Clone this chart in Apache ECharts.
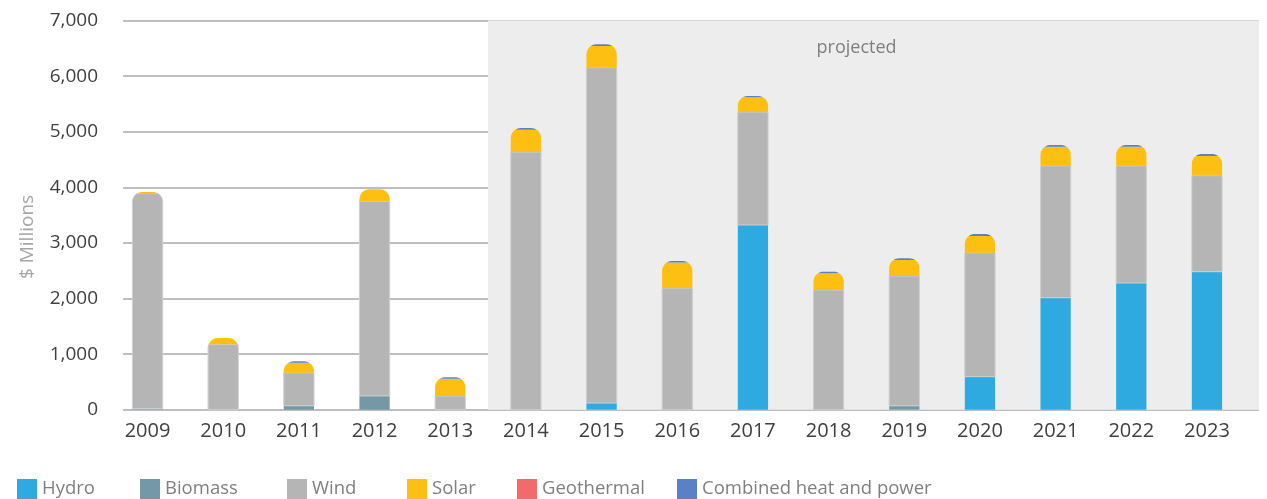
<!DOCTYPE html>
<html>
<head>
<meta charset="utf-8">
<script src="https://cdn.jsdelivr.net/npm/echarts@6/dist/echarts.min.js"></script>
<style>
html,body{margin:0;padding:0;background:#fff;}
#chart{width:1267px;height:499px;}
</style>
</head>
<body>
<div id="chart"></div>
<script>
const years = ['2009','2010','2011','2012','2013','2014','2015','2016','2017','2018','2019','2020','2021','2022','2023'];
const hydro      = [0, 0, 0, 0, 0, 0, 120, 0, 3322, 0, 0, 594, 2014, 2279, 2482];
const biomass    = [15, 0, 70, 248, 0, 0, 0, 0, 0, 0, 70, 0, 0, 0, 0];
const wind       = [3870, 1176, 595, 3500, 246, 4633, 6031, 2187, 2032, 2153, 2335, 2230, 2374, 2109, 1727];
const solar      = [30, 114, 180, 216, 312, 400, 390, 460, 265, 300, 287, 300, 342, 342, 354];
const geothermal = [0, 0, 0, 0, 0, 0, 0, 0, 0, 0, 0, 0, 0, 0, 0];
const chp        = [0, 0, 25, 0, 25, 32, 31, 28, 23, 29, 31, 36, 31, 31, 36];
const seriesNames = ['Hydro', 'Biomass', 'Wind', 'Solar', 'Geothermal', 'Combined heat and power'];
const yMin = 0, yMax = 7000, yStep = 1000;
const projectedStartIndex = 4.5;

const stackData = [hydro, biomass, wind, solar, geothermal, chp];
const colors = ['#2eaae0', '#7598a6', '#b5b5b5', '#fdc012', '#f26a6a', '#5b80c6'];
const legendLefts = [17, 140, 287, 407, 517, 677];
const FONT = '"Open Sans", "DejaVu Sans", sans-serif';

function makeRender(k) {
  return function (params, api) {
    const i = params.dataIndex;
    const v = stackData[k][i];
    if (!v) return null;
    let base = 0, total = 0;
    for (let j = 0; j < stackData.length; j++) {
      if (j < k) base += stackData[j][i];
      total += stackData[j][i];
    }
    const xc = api.coord([i, 0])[0];
    const y0 = api.coord([i, 0])[1];
    const yb = api.coord([i, base])[1];
    const yt = api.coord([i, base + v])[1];
    const T = api.coord([i, total])[1];
    const half = api.size([1, 0])[0] * 0.4 / 2;
    const r = Math.min(10, half, y0 - T);
    const lim = T + r;
    const inset = function (y) {
      const d = lim - y;
      if (d <= 0) return 0;
      return r - Math.sqrt(Math.max(0, r * r - d * d));
    };
    const ys = [yb];
    if (yt < lim) {
      const from = Math.min(yb, lim);
      const N = 20;
      for (let n = 0; n <= N; n++) ys.push(from + (yt - from) * n / N);
    } else {
      ys.push(yt);
    }
    const left = ys.map(function (y) { return [xc - half + inset(y), y]; });
    const right = ys.slice().reverse().map(function (y) { return [xc + half - inset(y), y]; });
    return {
      type: 'polygon',
      shape: { points: left.concat(right) },
      style: {
        fill: colors[k],
        stroke: k === 2 ? '#cfcfcf' : null,
        lineWidth: k === 2 ? 1 : 0
      }
    };
  };
}

const barSeries = seriesNames.map(function (name, k) {
  return {
    name: name,
    type: 'custom',
    xAxisIndex: 1,
    yAxisIndex: 1,
    itemStyle: { color: colors[k] },
    renderItem: makeRender(k),
    encode: { x: 0, y: 1 },
    data: years.map(function (y, i) { return [i, stackData[k][i]]; }),
    z: 3
  };
});

const legends = seriesNames.map(function (name, k) {
  return {
    left: legendLefts[k],
    top: 479,
    padding: 0,
    icon: 'rect',
    itemWidth: 20,
    itemHeight: 20,
    data: [name],
    textStyle: { color: '#7f7f7f', fontSize: 18.5, fontFamily: FONT }
  };
});

const chart = echarts.init(document.getElementById('chart'));
chart.setOption({
  animation: false,
  backgroundColor: '#ffffff',
  grid: [
    { left: 123, right: 8, top: 20.5, bottom: 89.3 },
    { left: 109.7, right: 22.2, top: 20.5, bottom: 89.3 }
  ],
  legend: legends,
  xAxis: [
    { gridIndex: 0, type: 'value', min: -0.324, max: 14.687, show: false },
    {
      gridIndex: 1, type: 'category', data: years,
      axisLine: { show: false }, axisTick: { show: false },
      axisLabel: { color: '#404040', fontSize: 20, fontFamily: FONT, margin: 12 }
    }
  ],
  yAxis: [
    {
      gridIndex: 0, type: 'value', min: yMin, max: yMax, interval: yStep,
      axisLine: { show: false }, axisTick: { show: false },
      splitLine: { show: true, lineStyle: { color: '#a9a9a9', width: 1.5 } },
      axisLabel: {
        color: '#404040', fontSize: 19, fontFamily: FONT, margin: 25,
        formatter: function (v) { return v.toLocaleString('en-US'); }
      }
    },
    { gridIndex: 1, type: 'value', min: yMin, max: yMax, interval: yStep, show: false }
  ],
  graphic: [
    {
      type: 'text', x: 28, y: 237, rotation: Math.PI / 2,
      style: {
        text: '$ Millions', fill: '#a6a6a6', fontSize: 19, fontFamily: FONT,
        align: 'center', verticalAlign: 'middle'
      }
    }
  ],
  series: [
    {
      name: 'projected-area',
      type: 'line',
      xAxisIndex: 0,
      yAxisIndex: 0,
      data: [],
      z: -1,
      silent: true,
      markArea: {
        silent: true,
        itemStyle: { color: '#ededed' },
        label: {
          show: true, position: 'insideTop', formatter: 'projected',
          color: '#7f7f7f', fontSize: 18, fontFamily: FONT, offset: [-17, 13]
        },
        data: [[{ xAxis: projectedStartIndex }, { xAxis: 14.687 }]]
      }
    }
  ].concat(barSeries)
});
</script>
</body>
</html>
